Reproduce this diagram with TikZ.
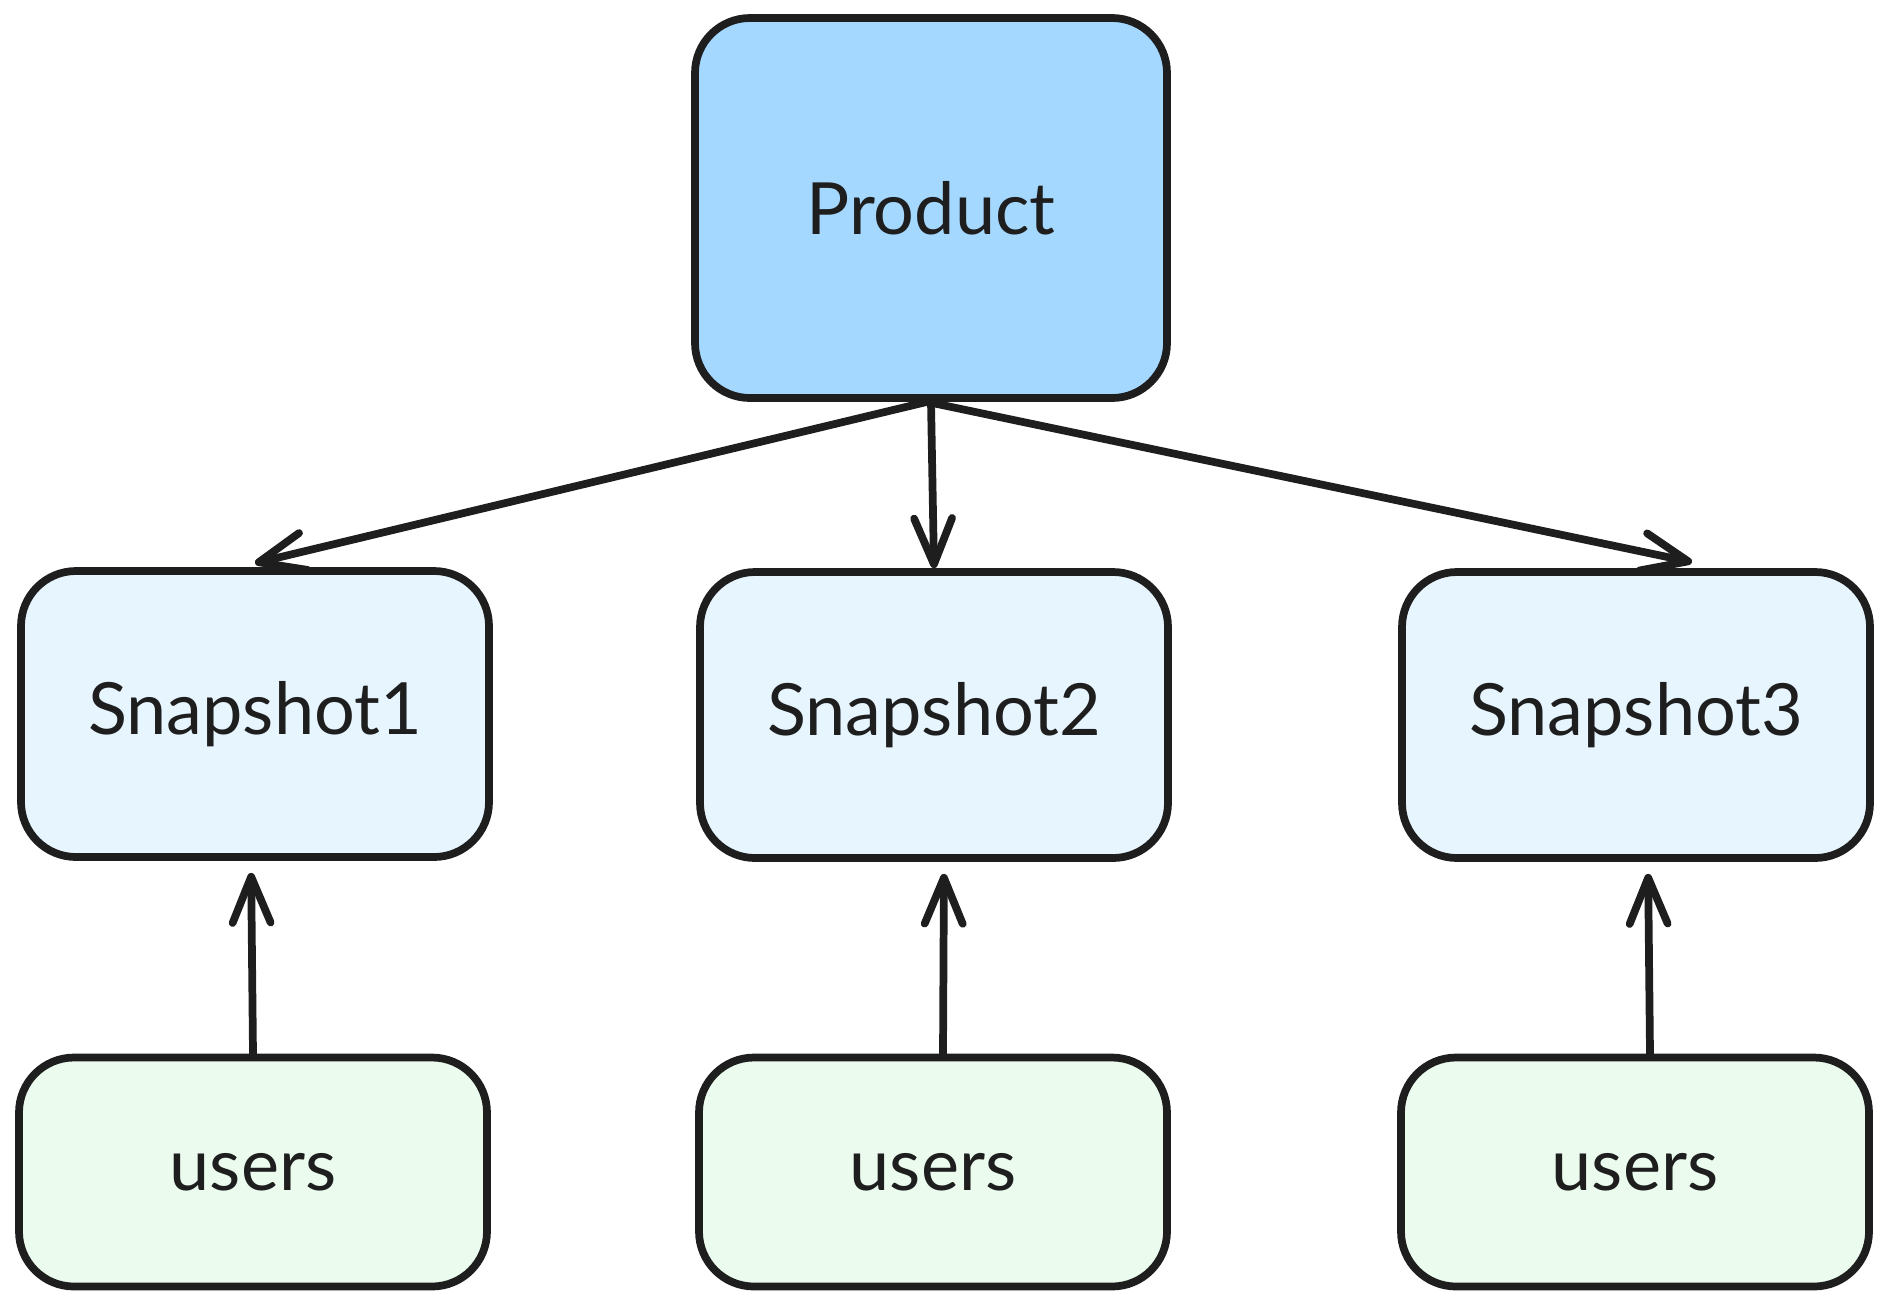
\documentclass[tikz,border=0pt]{standalone}
\usepackage{fontspec}
\setmainfont{Lato}
\usetikzlibrary{arrows.meta}

\definecolor{inkdark}{HTML}{1E1E1E}
\definecolor{prodblue}{HTML}{A5D8FF}
\definecolor{snapblue}{HTML}{E7F5FF}
\definecolor{usergreen}{HTML}{EBFBEE}

\tikzset{
    box/.style={draw=inkdark, line width=2.2pt, rounded corners=0.55cm, align=center,
        font=\fontsize{20.5}{24}\selectfont, text=inkdark},
    prodbox/.style={box, fill=prodblue, minimum width=4.72cm, minimum height=3.80cm},
    snapbox/.style={box, fill=snapblue, minimum width=4.68cm, minimum height=2.86cm},
    userbox/.style={box, fill=usergreen, minimum width=4.68cm, minimum height=2.29cm},
    link/.style={draw=inkdark, line width=2.2pt, line cap=round,
        -{Straight Barb[length=4.6mm, width=3.8mm, line width=2.2pt, round]}}
}

\begin{document}
\begin{tikzpicture}
                \useasboundingbox (0, 0) rectangle (18.88, -13.07);

                \node[prodbox] (product) at (9.31, -2.08) {Product};

                \node[snapbox] (snap1) at (2.55, -7.14) {Snapshot1};
                \node[snapbox] (snap2) at (9.34, -7.15) {Snapshot2};
                \node[snapbox] (snap3) at (16.36, -7.15) {Snapshot3};

                \node[userbox] (users1) at (2.53, -11.72) {users};
                \node[userbox] (users2) at (9.33, -11.72) {users};
                \node[userbox] (users3) at (16.35, -11.72) {users};

                % product -> snap1
                \draw[link] ([xshift=-0.04cm]product.south) -- ([yshift=0.04cm]snap1.north);

                % product -> snap2
                \draw[link] (product.south) -- (snap2.north);

                % product -> snap3
                \draw[link] ([xshift=-0.04cm]product.south) -- ([xshift=0.56cm, yshift=0.06cm]snap3.north);

                % users1 -> snap1
                \draw[link, shorten >=0.12cm] (users1.north) -- ([xshift=-0.04cm]snap1.south);

                % users2 -> snap2
                \draw[link, shorten >=0.12cm] ([xshift=0.1cm]users2.north) -- ([xshift=0.1cm]snap2.south);

                % users3 -> snap3
                \draw[link, shorten >=0.12cm] ([xshift=0.15cm]users3.north) -- ([xshift=0.12cm]snap3.south);

\end{tikzpicture}
\end{document}
